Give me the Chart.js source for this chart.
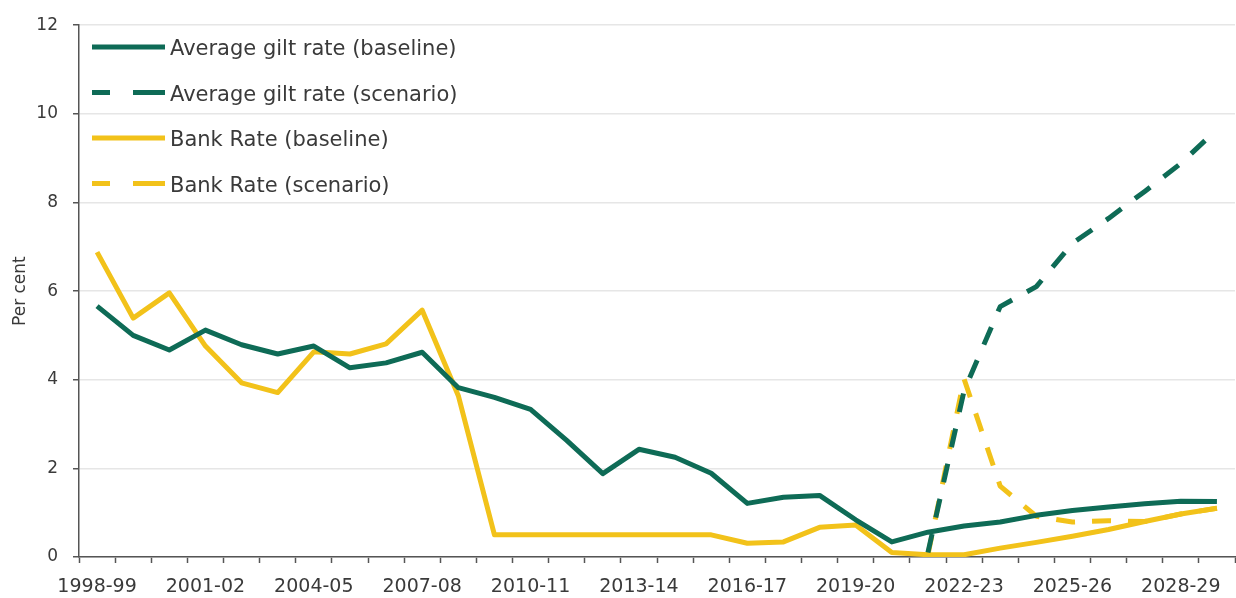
<!DOCTYPE html>
<html>
<head>
<meta charset="utf-8">
<script src="https://cdn.jsdelivr.net/npm/chart.js@4.4.0/dist/chart.umd.min.js"></script>
<style>
  html, body { margin: 0; padding: 0; background: #fff; }
</style>
</head>
<body>
<canvas id="rateChart" width="1236" height="598"></canvas>
<script>
const years = [
  "1998-99", "1999-00", "2000-01", "2001-02", "2002-03", "2003-04", "2004-05", "2005-06",
  "2006-07", "2007-08", "2008-09", "2009-10", "2010-11", "2011-12", "2012-13", "2013-14",
  "2014-15", "2015-16", "2016-17", "2017-18", "2018-19", "2019-20", "2020-21", "2021-22",
  "2022-23", "2023-24", "2024-25", "2025-26", "2026-27", "2027-28", "2028-29", "2029-30"
];

const giltBaseline = [
  5.66, 5.0, 4.67, 5.12, 4.79, 4.58, 4.76, 4.27,
  4.38, 4.62, 3.82, 3.6, 3.33, 2.63, 1.88, 2.43,
  2.25, 1.89, 1.21, 1.35, 1.39, 0.84, 0.34, 0.56,
  0.7, 0.79, 0.94, 1.05, 1.13, 1.2, 1.26, 1.25
];

const giltScenario = [
  null, null, null, null, null, null, null, null,
  null, null, null, null, null, null, null, null,
  null, null, null, null, null, null, null, 0.1,
  3.75, 5.65, 6.1, 7.08, 7.64, 8.25, 8.88, 9.65
];

const bankBaseline = [
  6.88, 5.39, 5.96, 4.76, 3.93, 3.71, 4.63, 4.58,
  4.81, 5.57, 3.64, 0.5, 0.5, 0.5, 0.5, 0.5,
  0.5, 0.5, 0.31, 0.34, 0.67, 0.72, 0.1, 0.05,
  0.05, 0.2, 0.33, 0.47, 0.62, 0.8, 0.97, 1.1
];

const bankScenario = [
  null, null, null, null, null, null, null, null,
  null, null, null, null, null, null, null, null,
  null, null, null, null, null, null, null, 0.05,
  4.02, 1.6, 0.92, 0.79, 0.82, 0.8, 0.97, 1.1
];

const GREEN = "#0e6b56";
const YELLOW = "#f2c21a";
const DASH = [19, 17];

Chart.defaults.font.family = '"DejaVu Sans", sans-serif';
Chart.defaults.color = "#3a3a3a";

// legend drawn inside the plot, one item per row
const insideLegend = {
  id: "insideLegend",
  afterDatasetsDraw(chart) {
    const ctx = chart.ctx;
    const x0 = 92, x1 = 165, top = 47, step = 45.5;
    ctx.save();
    chart.data.datasets.forEach((ds, i) => {
      const y = top + i * step;
      ctx.beginPath();
      ctx.strokeStyle = ds.borderColor;
      ctx.lineWidth = ds.borderWidth;
      ctx.setLineDash(ds.borderDash ? [18, 23, 40] : []);
      ctx.moveTo(x0, y);
      ctx.lineTo(x1, y);
      ctx.stroke();
      ctx.setLineDash([]);
      ctx.fillStyle = "#3a3a3a";
      ctx.font = '21px "DejaVu Sans", sans-serif';
      ctx.textBaseline = "alphabetic";
      ctx.fillText(ds.label, 170, y + 8);
    });
    ctx.restore();
  }
};

const ctx = document.getElementById("rateChart").getContext("2d");

new Chart(ctx, {
  type: "line",
  data: {
    labels: years,
    datasets: [
      {
        label: "Average gilt rate (baseline)",
        data: giltBaseline,
        borderColor: GREEN,
        borderWidth: 5,
      },
      {
        label: "Average gilt rate (scenario)",
        data: giltScenario,
        borderColor: GREEN,
        borderWidth: 5,
        borderDash: DASH,
      },
      {
        label: "Bank Rate (baseline)",
        data: bankBaseline,
        borderColor: YELLOW,
        borderWidth: 5,
      },
      {
        label: "Bank Rate (scenario)",
        data: bankScenario,
        borderColor: YELLOW,
        borderWidth: 5,
        borderDash: DASH,
      }
    ]
  },
  options: {
    responsive: false,
    animation: false,
    layout: { padding: { top: 23, right: 1, left: 0, bottom: 0 } },
    elements: {
      point: { radius: 0 },
      line: { tension: 0, borderJoinStyle: "round", fill: false }
    },
    scales: {
      x: {
        offset: true,
        grid: {
          offset: true,
          drawOnChartArea: false,
          tickLength: 6,
          tickColor: "#555",
          tickWidth: 1.5
        },
        border: { color: "#555", width: 1.5 },
        ticks: {
          autoSkip: false,
          maxRotation: 0,
          padding: 13,
          font: { size: 19 },
          callback: function (value, index) {
            return index % 3 === 0 ? this.getLabelForValue(value) : "";
          }
        },
        afterFit: axis => { axis.height = 41; }
      },
      y: {
        min: 0,
        max: 12,
        ticks: { stepSize: 2, padding: 15, font: { size: 17 } },
        grid: {
          color: "#e6e6e6",
          lineWidth: 1.5,
          tickLength: 6,
          tickColor: "#555",
          tickWidth: 1.5
        },
        border: { color: "#555", width: 1.5 },
        title: {
          display: true,
          text: "Per cent",
          font: { size: 17 },
          padding: { top: 10, bottom: 0 }
        },
        afterFit: axis => { axis.width = 79; }
      }
    },
    plugins: {
      legend: { display: false },
      tooltip: { enabled: false }
    }
  },
  plugins: [insideLegend]
});
</script>
</body>
</html>
